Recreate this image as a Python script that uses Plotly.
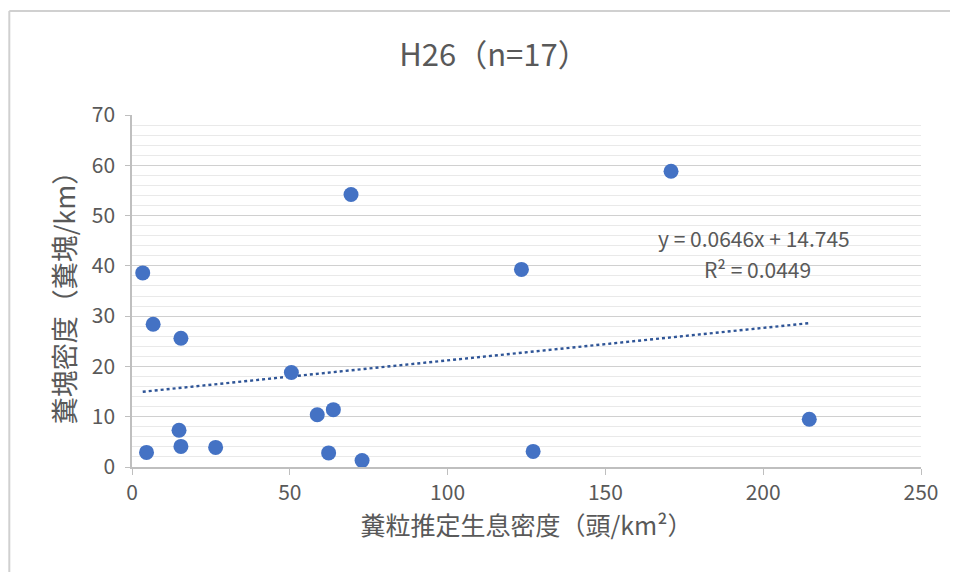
import plotly.graph_objects as go

# Data
x_density = [3.4, 4.6, 6.7, 15.5, 14.9, 15.5, 26.5, 50.5, 58.7, 63.8, 62.3, 69.4, 72.9, 123.4, 127.1, 170.8, 214.6]
y_dung = [38.6, 2.9, 28.4, 25.6, 7.3, 4.1, 3.9, 18.8, 10.4, 11.4, 2.8, 54.2, 1.3, 39.3, 3.1, 58.8, 9.5]

slope = 0.0646
intercept = 14.745

title_text = "H26（n=17）"
x_title = "糞粒推定生息密度（頭/km²）"
y_title = "糞塊密度（糞塊/km）"
eq_text = "y = 0.0646x + 14.745"
r2_text = "R² = 0.0449"

font_family = "Noto Sans CJK JP"
grey = "#595959"

trend_x = [min(x_density), max(x_density)]
trend_y = [slope * v + intercept for v in trend_x]

# page has an 8px body margin; sizes below are in figure coordinates
W, H = 942, 564
L, T, PW, PH = 124, 107, 791, 352

fig = go.Figure()
fig.add_trace(go.Scatter(
    x=trend_x, y=trend_y, mode="lines",
    line=dict(color="#2F5597", width=2.4, dash="dot"),
    hoverinfo="skip", showlegend=False))
fig.add_trace(go.Scatter(
    x=x_density, y=y_dung, mode="markers",
    marker=dict(color="#4472C4", size=15, line=dict(width=0)),
    showlegend=False))

frame_x0 = (1 - L) / PW
frame_y1 = 1 + (T - 3) / PH

fig.update_layout(
    width=W, height=H,
    margin=dict(l=L, r=W - L - PW, t=T, b=H - T - PH),
    paper_bgcolor="white", plot_bgcolor="white",
    font=dict(family=font_family, color=grey),
    title=dict(text=title_text, x=486 / W, xanchor="center",
               y=1 - 47 / H, yanchor="middle",
               font=dict(size=31, color=grey, family=font_family)),
    xaxis=dict(range=[0, 250], dtick=50, tick0=0,
               showgrid=False, zeroline=False,
               showline=True, linecolor="#bfbfbf", linewidth=1.5,
               ticks="outside", ticklen=6, tickcolor="#bfbfbf",
               tickfont=dict(size=21, color=grey, family=font_family),
               title=dict(text=x_title, font=dict(size=25, color=grey, family=font_family), standoff=12)),
    yaxis=dict(range=[0, 70], dtick=10, tick0=0,
               showgrid=True, gridcolor="#d0d0d0", gridwidth=1.3,
               zeroline=False,
               showline=True, linecolor="#bfbfbf", linewidth=1.5,
               ticks="outside", ticklen=5, tickcolor="#bfbfbf",
               ticklabelstandoff=6,
               tickfont=dict(size=21, color=grey, family=font_family),
               minor=dict(dtick=2, showgrid=True, gridcolor="#e9e9e9", gridwidth=1),
               title=dict(text=y_title, font=dict(size=27, color=grey, family=font_family), standoff=8)),
    shapes=[
        dict(type="line", xref="paper", yref="paper",
             x0=frame_x0, x1=(W - L) / PW + 0.05, y0=frame_y1, y1=frame_y1,
             line=dict(color="#d0d0d0", width=2), layer="below"),
        dict(type="line", xref="paper", yref="paper",
             x0=frame_x0, x1=frame_x0, y0=frame_y1, y1=-(H - T - PH) / PH - 0.05,
             line=dict(color="#d0d0d0", width=2), layer="below"),
    ],
    annotations=[
        dict(x=166.0, y=45.5, xref="x", yref="y", text=eq_text, showarrow=False,
             xanchor="left", yanchor="middle", font=dict(size=21, color=grey, family=font_family)),
        dict(x=180.5, y=39.3, xref="x", yref="y", text=r2_text, showarrow=False,
             xanchor="left", yanchor="middle", font=dict(size=21, color=grey, family=font_family)),
    ],
)

fig.write_html("out.html")
